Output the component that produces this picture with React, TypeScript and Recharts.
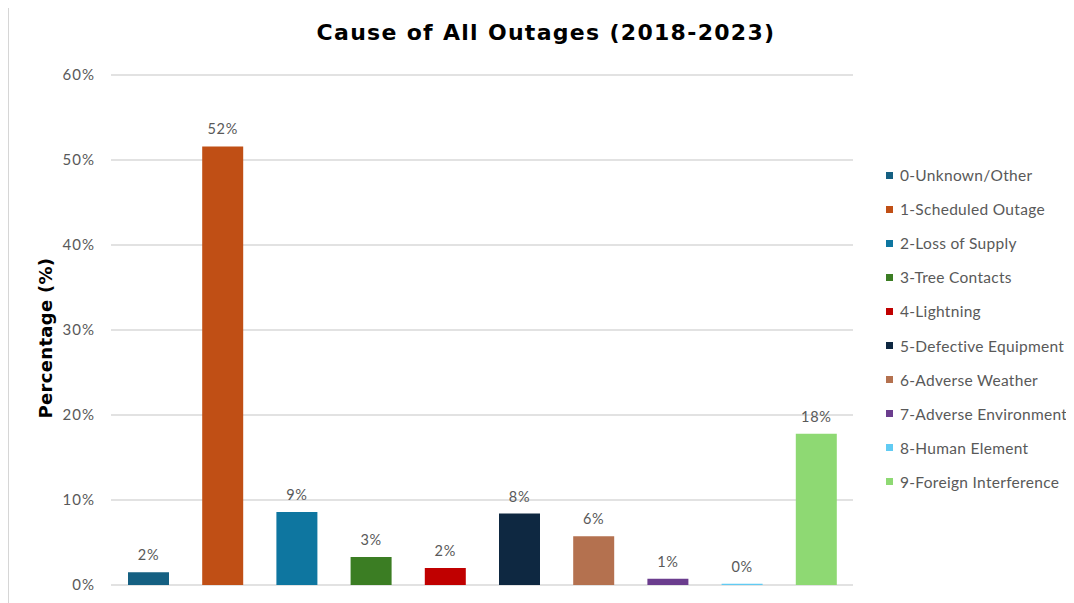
import React from "react";
import { BarChart, Bar, XAxis, YAxis, CartesianGrid, Cell, LabelList } from "recharts";

const categories = [
  "0-Unknown/Other",
  "1-Scheduled Outage",
  "2-Loss of Supply",
  "3-Tree Contacts",
  "4-Lightning",
  "5-Defective Equipment",
  "6-Adverse Weather",
  "7-Adverse Environment",
  "8-Human Element",
  "9-Foreign Interference",
];
const percentages = [1.5, 51.6, 8.6, 3.3, 2.0, 8.4, 5.75, 0.75, 0.15, 17.8];
const colors = [
  "#156082",
  "#C04F15",
  "#0E76A0",
  "#3B7D23",
  "#C00000",
  "#0E2841",
  "#B4714F",
  "#6B3D8E",
  "#61CBF3",
  "#8ED973",
];
const yTicks = [0, 10, 20, 30, 40, 50, 60];
const title = "Cause of All Outages (2018-2023)";
const yLabel = "Percentage (%)";

const data = categories.map((c, i) => ({ name: c, value: percentages[i] }));

const gray = "#595959";
const labelFont = "Lato, 'Open Sans', sans-serif";

function LegendContent() {
  return (
    <div style={{ fontFamily: labelFont }}>
      {categories.map((c, i) => (
        <div
          key={c}
          style={{ display: "flex", alignItems: "center", height: 34.1, whiteSpace: "nowrap" }}
        >
          <span
            style={{ display: "inline-block", width: 7, height: 7, background: colors[i], marginRight: 7 }}
          />
          <span style={{ color: gray, fontSize: 15.5, letterSpacing: 0.3 }}>{c}</span>
        </div>
      ))}
    </div>
  );
}

export default function App() {
  return (
    <div style={{ position: "relative", marginLeft: -8, marginTop: -8, width: 1074, height: 603, background: "#fff", overflow: "hidden" }}>
      <div style={{ position: "absolute", left: 0, top: 0 }}>
        <BarChart
          width={1074}
          height={603}
          data={data}
          margin={{ top: 75, right: 221, bottom: 18, left: 0 }}
        >
          <CartesianGrid vertical={false} stroke="#d9d9d9" strokeWidth={1.3} />
          <XAxis dataKey="name" hide />
          <YAxis
            width={111}
            domain={[0, 60]}
            ticks={yTicks}
            interval={0}
            tickFormatter={(v: number) => `${v}%`}
            axisLine={false}
            tickLine={false}
            tickSize={0}
            tickMargin={16}
            tick={{ fill: gray, fontSize: 15, fontFamily: labelFont, letterSpacing: 1 }}
          />
          <Bar dataKey="value" barSize={41} isAnimationActive={false}>
            {data.map((d, i) => (
              <Cell key={d.name} fill={colors[i]} />
            ))}
            <LabelList
              dataKey="value"
              position="top"
              offset={12}
              formatter={(v: number) => `${Math.round(v)}%`}
              style={{ fill: gray, fontSize: 14.5, fontFamily: labelFont, letterSpacing: 0.7 }}
            />
          </Bar>
        </BarChart>
      </div>
      <div style={{ position: "absolute", left: 886, top: 158, width: 188 }}>
        <LegendContent />
      </div>
      <div
        style={{
          position: "absolute",
          left: 0,
          width: 1092,
          top: 20,
          textAlign: "center",
          fontFamily: "'DejaVu Sans', Verdana, sans-serif",
          fontWeight: "bold",
          fontSize: 22,
          letterSpacing: 1.3,
          color: "#000",
        }}
      >
        {title}
      </div>
      <div
        style={{
          position: "absolute",
          left: 45,
          top: 338,
          transform: "translate(-50%, -50%) rotate(-90deg)",
          fontFamily: "'DejaVu Sans', Verdana, sans-serif",
          fontWeight: "bold",
          fontSize: 18,
          letterSpacing: 0.3,
          whiteSpace: "nowrap",
          color: "#000",
        }}
      >
        {yLabel}
      </div>
      <div style={{ position: "absolute", left: 6, top: 4, width: 1068, height: 3, background: "#d6d6d6", zIndex: 10 }} />
      <div style={{ position: "absolute", left: 6, top: 4, width: 3, height: 599, background: "#d6d6d6", zIndex: 10 }} />
    </div>
  );
}
